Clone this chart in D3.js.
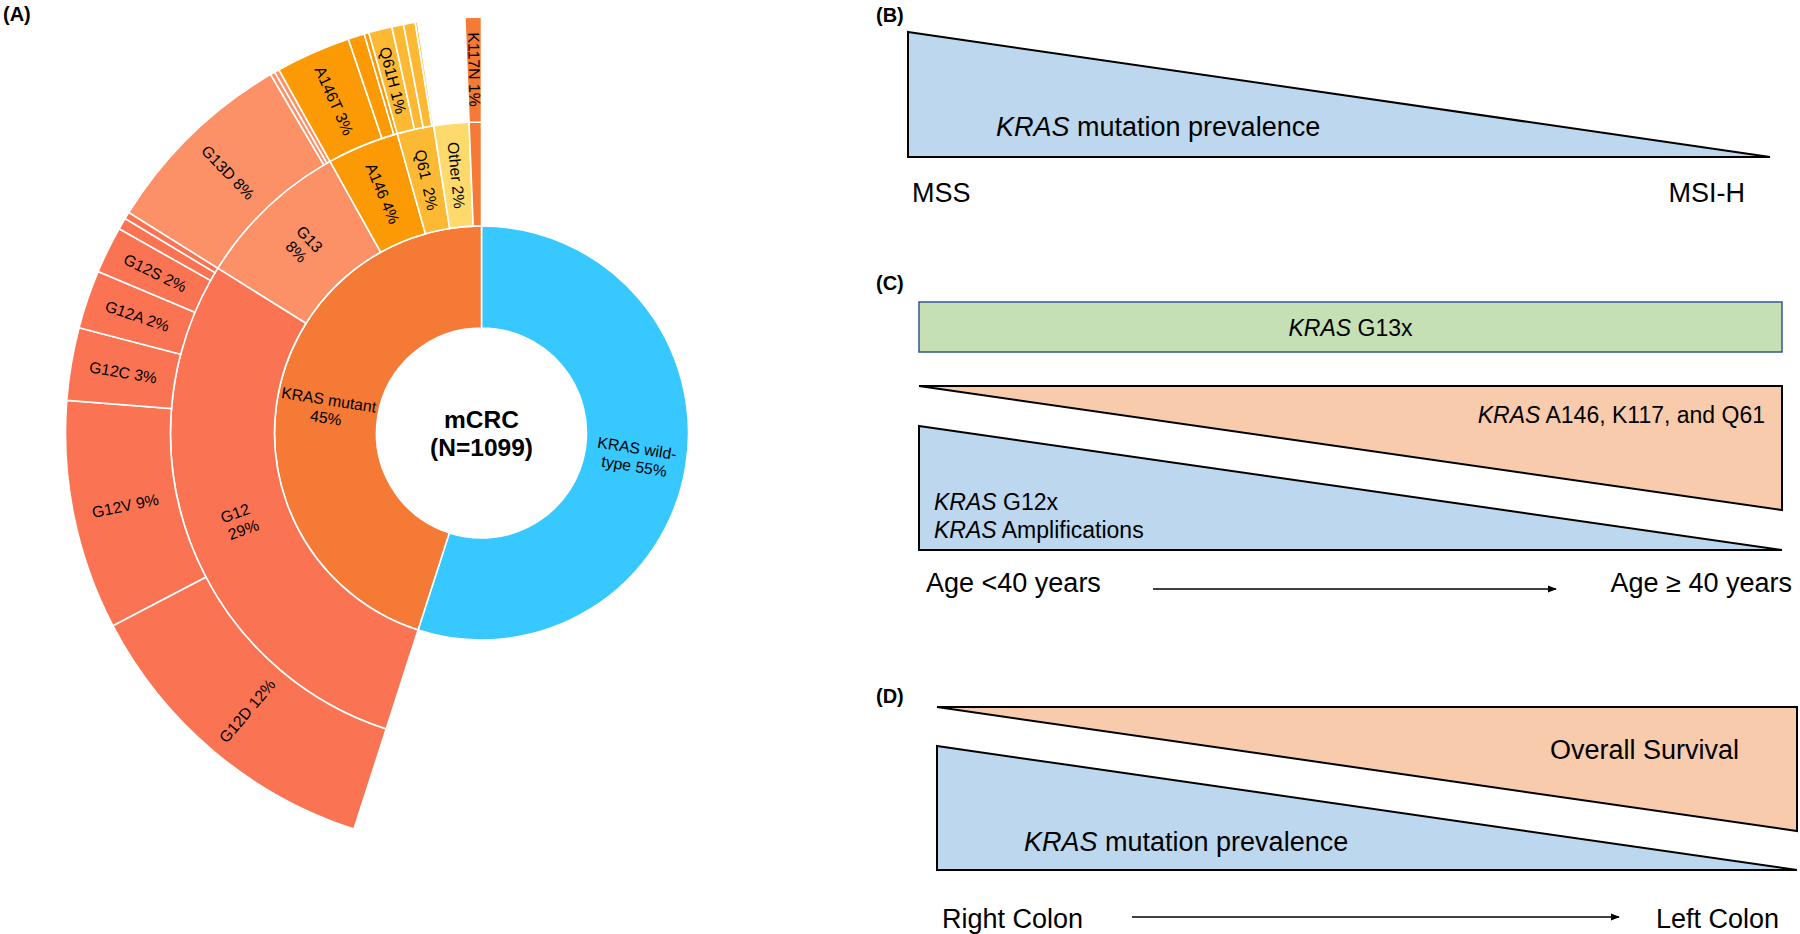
<!DOCTYPE html>
<html>
<head>
<meta charset="utf-8">
<script src="https://cdn.jsdelivr.net/npm/d3@7"></script>
<style>
  body { margin: 0; background: #fff; }
  text { font-family: "Liberation Sans", Arial, sans-serif; white-space: pre; }
</style>
</head>
<body>
<div id="chart"></div>
<script>
// ---- data (counts out of N=1099) ----
var centreLabel = ["mCRC", "(N=1099)"];
var statusNames = ["KRAS wild-type", "KRAS mutant"];
var statusLabels = [["KRAS wild-", "type 55%"], ["KRAS mutant", "45%"]];
var wildTypeCount = 604;

var codonNames = ["G12", "G13", "A146", "Q61", "Other", "K117"];
var codonLabels = [["G12", " 29%"], ["G13", "8%"], ["A146 4%"], ["Q61  2%"], ["Other 2%"], []];
var otherCount = 20;

var variantNames = ["G12D", "G12V", "G12C", "G12A", "G12S", "G12 other a", "G12 other b",
  "G13D", "G13 other a", "G13 other b",
  "A146T", "A146V", "A146 other",
  "Q61H", "Q61 other a", "Q61 other b", "Q61 other c",
  "K117N"];
var variantCodon = ["G12", "G12", "G12", "G12", "G12", "G12", "G12",
  "G13", "G13", "G13",
  "A146", "A146", "A146",
  "Q61", "Q61", "Q61", "Q61",
  "K117"];
var variantCounts = [136, 98, 31, 25, 20, 5, 3, 84, 2, 2, 32, 7, 2, 10, 5, 5, 1, 7];
var variantLabels = ["G12D 12%", "G12V 9%", "G12C 3%", "G12A 2%", "G12S 2%", "", "",
  "G13D 8%", "", "", "A146T 3%", "", "", "Q61H 1%", "", "", "", "K117N 1%"];

// right-hand schematic panels: relative heights at the left and right end of each wedge
var panelBLabels = ["MSS", "MSI-H"];
var panelBTrend = [1, 0];
var panelCLabels = ["Age <40 years", "Age \u2265 40 years"];
var panelCTrends = [[1, 1], [0, 1], [1, 0]];   // G13x band, A146/K117/Q61, G12x
var panelDLabels = ["Right Colon", "Left Colon"];
var panelDTrends = [[0, 1], [1, 0]];           // overall survival, KRAS prevalence

var statusColors = ["#36c8fe", "#f47a35"];
var codonColors = ["#fa7454", "#fc9067", "#fc9a05", "#fdb934", "#fed96b", "#f47a35"];

var svg = d3.select('#chart').append('svg')
    .attr('width', 1800)
    .attr('height', 934);

// ---- (A) sunburst ----
var tree = {
  name: "mCRC",
  children: [
    { name: statusNames[0], value: wildTypeCount },
    { name: statusNames[1], children: codonNames.map(function(c) {
        if (c === "Other") return { name: c, value: otherCount };
        var kids = [];
        variantNames.forEach(function(v, i) {
          if (variantCodon[i] === c) kids.push({ name: v, value: variantCounts[i], label: variantLabels[i] });
        });
        return { name: c, children: kids };
      })
    }
  ]
};

var root = d3.hierarchy(tree).sum(function(d) { return d.children ? 0 : d.value; });
d3.partition().size([2 * Math.PI, 4])(root);

var radii = [0, 105, 207, 311, 416];
var arc = d3.arc()
    .startAngle(function(d) { return d.x0; })
    .endAngle(function(d) { return d.x1; })
    .innerRadius(function(d) { return radii[d.depth]; })
    .outerRadius(function(d) { return radii[d.depth + 1]; });

function colour(d) {
  if (d.depth === 1) return statusColors[statusNames.indexOf(d.data.name)];
  var a = d;
  while (a.depth > 2) a = a.parent;
  return codonColors[codonNames.indexOf(a.data.name)];
}

function labelLines(d) {
  if (d.depth === 1) return statusLabels[statusNames.indexOf(d.data.name)];
  if (d.depth === 2) return codonLabels[codonNames.indexOf(d.data.name)];
  return d.data.label ? [d.data.label] : [];
}

var sun = svg.append('g').attr('transform', 'translate(481.5,433)');
var nodes = root.descendants().filter(function(d) { return d.depth > 0; });

sun.selectAll('path')
    .data(nodes)
  .enter().append('path')
    .attr('d', arc)
    .style('fill', colour)
    .style('stroke', '#fff')
    .style('stroke-width', 1.6);

sun.selectAll('text.seg')
    .data(nodes.filter(function(d) { return labelLines(d).length; }))
  .enter().append('text')
    .attr('class', 'seg')
    .attr('transform', function(d) {
      var a = (d.x0 + d.x1) / 2 * 180 / Math.PI;
      var r = (radii[d.depth] + radii[d.depth + 1]) / 2;
      return 'rotate(' + (a - 90) + ') translate(' + r + ',0) rotate(' + (a < 180 ? 0 : 180) + ')';
    })
    .style('font-size', '15.8px')
    .attr('text-anchor', 'middle')
    .each(function(d) {
      var lines = labelLines(d);
      var t = d3.select(this);
      lines.forEach(function(l, i) {
        t.append('tspan')
            .attr('x', 0)
            .attr('dy', i === 0 ? (0.35 - (lines.length - 1) * 0.58) + 'em' : '1.16em')
            .text(l);
      });
    });

sun.selectAll('text.centre')
    .data(centreLabel)
  .enter().append('text')
    .attr('class', 'centre')
    .attr('y', function(d, i) { return i === 0 ? -5 : 23; })
    .attr('text-anchor', 'middle')
    .style('font-size', '24.5px')
    .style('font-weight', 'bold')
    .text(function(d) { return d; });

// ---- panel letters ----
var letters = [["(A)", 3, 21], ["(B)", 876, 22], ["(C)", 876, 290], ["(D)", 876, 703]];
svg.selectAll('text.letter')
    .data(letters)
  .enter().append('text')
    .attr('class', 'letter')
    .attr('x', function(d) { return d[1]; })
    .attr('y', function(d) { return d[2]; })
    .style('font-size', '20px')
    .style('font-weight', 'bold')
    .text(function(d) { return d[0]; });

// ---- wedge helpers ----
// anchor 'bottom': wedge rises from baseline; anchor 'top': hangs from top line
function wedge(x, top, bottom, trend, anchor) {
  var h = d3.scaleLinear().domain([0, 1]).range([0, bottom - top]);
  var pts;
  if (anchor === 'bottom') {
    pts = [[x(0), bottom - h(trend[0])], [x(1), bottom - h(trend[1])], [x(1), bottom], [x(0), bottom]];
  } else {
    pts = [[x(0), top], [x(1), top], [x(1), top + h(trend[1])], [x(0), top + h(trend[0])]];
  }
  return d3.line()(pts) + 'Z';
}

function kras(x, y, rest, anchor, size) {
  var t = svg.append('text')
      .attr('x', x).attr('y', y)
      .attr('text-anchor', anchor || 'start')
      .style('font-size', (size || 27) + 'px');
  t.append('tspan').style('font-style', 'italic').text('KRAS');
  t.append('tspan').text(rest);
  return t;
}

function plain(x, y, s, anchor) {
  svg.append('text')
      .attr('x', x).attr('y', y)
      .attr('text-anchor', anchor || 'start')
      .style('font-size', '27px')
      .text(s);
}

svg.append('defs').append('marker')
    .attr('id', 'arrow')
    .attr('viewBox', '0 0 10 10')
    .attr('refX', 9).attr('refY', 5)
    .attr('markerWidth', 6).attr('markerHeight', 6)
    .attr('markerUnits', 'strokeWidth')
    .attr('orient', 'auto')
  .append('path')
    .attr('d', 'M0,1 L10,5 L0,9 Z')
    .style('fill', '#000');

function arrow(x1, x2, y) {
  svg.append('line')
      .attr('x1', x1).attr('x2', x2).attr('y1', y).attr('y2', y)
      .style('stroke', '#000')
      .style('stroke-width', 1.5)
      .attr('marker-end', 'url(#arrow)');
}

var blue = '#bdd7ee', peach = '#f8cbad', green = '#c5e0b4';

// ---- (B) ----
var xB = d3.scaleLinear().domain([0, 1]).range([908, 1770]);
svg.append('path')
    .attr('d', wedge(xB, 32, 157, panelBTrend, 'bottom'))
    .style('fill', blue).style('stroke', '#000').style('stroke-width', 2);
kras(996, 136, ' mutation prevalence');
plain(912, 202, panelBLabels[0]);
plain(1745, 202, panelBLabels[1], 'end');

// ---- (C) ----
var xC = d3.scaleLinear().domain([0, 1]).range([919, 1782]);
svg.append('path')
    .attr('d', wedge(xC, 302, 352, panelCTrends[0], 'bottom'))
    .style('fill', green).style('stroke', '#2f5597').style('stroke-width', 1.5);
svg.append('path')
    .attr('d', wedge(xC, 386, 510, panelCTrends[1], 'top'))
    .style('fill', peach).style('stroke', '#000').style('stroke-width', 2);
svg.append('path')
    .attr('d', wedge(xC, 426, 550, panelCTrends[2], 'bottom'))
    .style('fill', blue).style('stroke', '#000').style('stroke-width', 2);
kras(xC(0.5), 336, ' G13x', 'middle', 23);
kras(1765, 423, ' A146, K117, and Q61', 'end', 23);
kras(934, 510, ' G12x', 'start', 23);
kras(934, 538, ' Amplifications', 'start', 23);
plain(926, 592, panelCLabels[0]);
plain(1792, 592, panelCLabels[1], 'end');
arrow(1153, 1556, 589);

// ---- (D) ----
var xD = d3.scaleLinear().domain([0, 1]).range([937, 1797]);
svg.append('path')
    .attr('d', wedge(xD, 707, 831, panelDTrends[0], 'top'))
    .style('fill', peach).style('stroke', '#000').style('stroke-width', 2);
svg.append('path')
    .attr('d', wedge(xD, 746, 870, panelDTrends[1], 'bottom'))
    .style('fill', blue).style('stroke', '#000').style('stroke-width', 2);
plain(1739, 759, 'Overall Survival', 'end');
kras(1024, 851, ' mutation prevalence');
plain(942, 928, panelDLabels[0]);
plain(1779, 928, panelDLabels[1], 'end');
arrow(1132, 1619, 917);
</script>
</body>
</html>
